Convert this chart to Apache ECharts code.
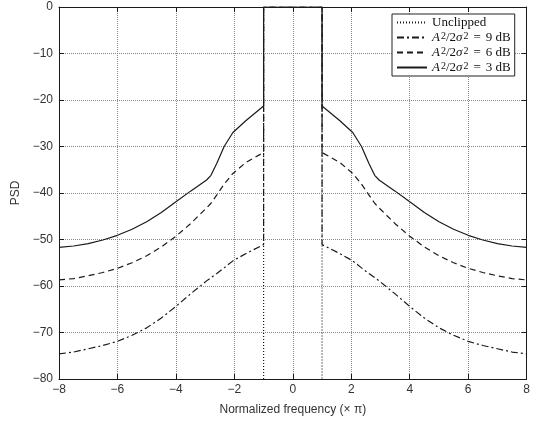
<!DOCTYPE html>
<html>
<head>
<meta charset="utf-8">
<script src="https://cdn.jsdelivr.net/npm/echarts@6/dist/echarts.min.js"></script>
<style>
  html, body { margin: 0; padding: 0; background: #fff; }
  #chart { width: 533px; height: 426px; }
</style>
</head>
<body>
<div id="chart"></div>
<script>
// normalized frequency (x pi)
const freq = [
  -8, -7.5, -7, -6.5, -6, -5.5, -5, -4.5, -4, -3.5, -2.95, -2.8, -2.6, -2.35, -2.05, -1.6, -1,
  -1, 1,
  1, 1.6, 2.05, 2.35, 2.6, 2.8, 2.95, 3.5, 4, 4.5, 5, 5.5, 6, 6.5, 7, 7.5, 8
];
const psd3dB = [
  -51.7, -51.4, -50.9, -50.1, -49.1, -47.8, -46.2, -44.2, -41.9, -39.6, -37.2, -36.2, -33.6, -30, -27, -24.4, -21.3,
  0, 0,
  -21.3, -24.4, -27, -30, -33.6, -36.2, -37.2, -39.6, -41.9, -44.2, -46.2, -47.8, -49.1, -50.1, -50.9, -51.4, -51.7
];
const psd6dB = [
  -58.7, -58.4, -57.8, -57.1, -56.2, -55, -53.5, -51.6, -49.3, -46.6, -43.2, -42.2, -40.4, -38.1, -35.8, -33.4, -31.3,
  0, 0,
  -31.3, -33.4, -35.8, -38.1, -40.4, -42.2, -43.2, -46.6, -49.3, -51.6, -53.5, -55, -56.2, -57.1, -57.8, -58.4, -58.7
];
const psd9dB = [
  -74.6, -74.2, -73.5, -72.8, -71.9, -70.6, -69, -66.9, -64.4, -61.7, -58.9, -58.2, -57.3, -56.1, -54.6, -53, -51.1,
  0, 0,
  -51.1, -53, -54.6, -56.1, -57.3, -58.2, -58.9, -61.7, -64.4, -66.9, -69, -70.6, -71.9, -72.8, -73.5, -74.2, -74.6
];
const unclippedFreq = [-1, -1, 1, 1];
const unclippedPsd = [-80, 0, 0, -80];

const legendNames = ['Unclipped', '9 dB', '6 dB', '3 dB'];

const pairs = (xs, ys) => xs.map((x, i) => [x, ys[i]]);
const minus = (v) => String(v).replace('-', '\u2212');

const ink = '#1a1a1a';
const tickFont = { color: '#333', fontSize: 12, fontFamily: 'Liberation Sans' };
const serif = 'Liberation Serif';

const chart = echarts.init(document.getElementById('chart'));

const lineSeries = (name, data, type, z) => ({
  name: name,
  type: 'line',
  data: data,
  showSymbol: false,
  symbol: 'none',
  animation: false,
  z: z,
  lineStyle: { color: ink, width: 1.2, type: type },
  // transparent so the legend only shows the line, not a dot
  itemStyle: { color: 'rgba(0,0,0,0)', borderWidth: 0 }
});

chart.setOption({
  backgroundColor: '#fff',
  animation: false,
  grid: { left: 59, right: 4, top: 7, bottom: 47 },
  legend: {
    data: legendNames,
    orient: 'vertical',
    left: 392,
    top: 14,
    padding: [2, 4, 2, 4],
    itemGap: 2,
    itemWidth: 30,
    itemHeight: 13,
    backgroundColor: '#fff',
    borderColor: '#222',
    borderWidth: 1,
    borderRadius: 0,
    formatter: (name) => name === 'Unclipped'
      ? 'Unclipped'
      : '{i|A}{sup|2}/2{i|\u03c3}{sup|2}{eq|=}' + name,
    textStyle: {
      color: '#111',
      fontSize: 13,
      fontFamily: serif,
      rich: {
        i: { fontStyle: 'italic', fontSize: 13, fontFamily: serif, color: '#111', padding: [0, 1, 0, 0] },
        sup: { fontSize: 10, fontFamily: serif, color: '#111', verticalAlign: 'top' },
        eq: { fontSize: 13, fontFamily: serif, color: '#111', padding: [0, 5, 0, 5] }
      }
    }
  },
  xAxis: [
    {
      type: 'value',
      min: -8,
      max: 8,
      interval: 2,
      name: 'Normalized frequency (\u00d7 \u03c0)',
      nameLocation: 'middle',
      nameGap: 25,
      nameTextStyle: { color: '#333', fontSize: 12, fontFamily: 'Liberation Sans' },
      axisLine: { onZero: false, lineStyle: { color: ink, width: 1 } },
      axisTick: { inside: true, length: 5, lineStyle: { color: ink } },
      axisLabel: Object.assign({ margin: 5, formatter: minus }, tickFont),
      splitLine: { show: true, lineStyle: { color: '#888', type: 'dotted', width: 1 } }
    },
    {
      type: 'value',
      position: 'top',
      min: -8,
      max: 8,
      interval: 2,
      axisLine: { onZero: false, lineStyle: { color: ink, width: 1 } },
      axisTick: { inside: true, length: 5, lineStyle: { color: ink } },
      axisLabel: { show: false },
      splitLine: { show: false }
    }
  ],
  yAxis: [
    {
      type: 'value',
      min: -80,
      max: 0,
      interval: 10,
      name: 'PSD',
      nameLocation: 'middle',
      nameGap: 33,
      nameTextStyle: { color: '#333', fontSize: 12, fontFamily: 'Liberation Sans' },
      axisLine: { show: true, onZero: false, lineStyle: { color: ink, width: 1 } },
      axisTick: { show: true, inside: true, length: 5, lineStyle: { color: ink } },
      axisLabel: Object.assign({ margin: 6, formatter: minus }, tickFont),
      splitLine: { show: true, lineStyle: { color: '#888', type: 'dotted', width: 1 } }
    },
    {
      type: 'value',
      position: 'right',
      min: -80,
      max: 0,
      interval: 10,
      axisLine: { show: true, onZero: false, lineStyle: { color: ink, width: 1 } },
      axisTick: { show: true, inside: true, length: 5, lineStyle: { color: ink } },
      axisLabel: { show: false },
      splitLine: { show: false }
    }
  ],
  series: [
    lineSeries('Unclipped', pairs(unclippedFreq, unclippedPsd), [1, 2], 3),
    lineSeries('9 dB', pairs(freq, psd9dB), [7, 3, 2, 3], 4),
    lineSeries('6 dB', pairs(freq, psd6dB), [6, 4], 5),
    lineSeries('3 dB', pairs(freq, psd3dB), 'solid', 6)
  ]
});
</script>
</body>
</html>
